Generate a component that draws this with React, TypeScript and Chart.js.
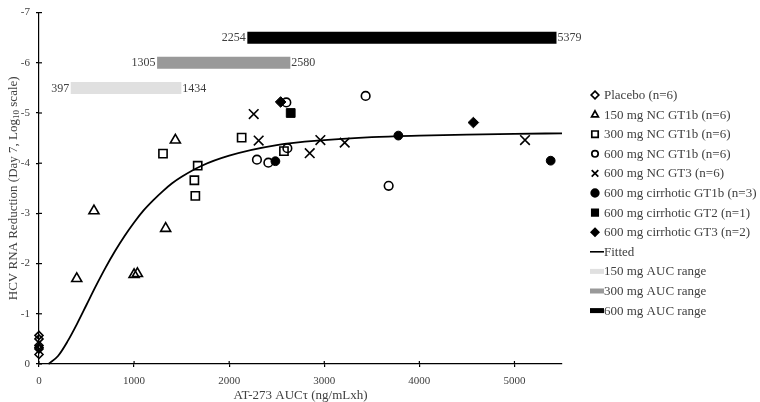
import React, { useEffect, useRef } from 'react';
import { Chart, registerables } from 'chart.js';

Chart.register(...registerables);

const FONT = '"Liberation Serif", "Times New Roman", serif';
const TEXT = '#404040';

// ---- Data ----
const placeboX = [0, 0, 0, 0, 0, 0];
const placeboY = [-0.57, -0.5, -0.37, -0.33, -0.3, -0.19];
const nc150X = [397, 578, 1000, 1035, 1332, 1434];
const nc150Y = [-1.7, -3.05, -1.78, -1.8, -2.7, -4.46];
const nc300X = [1304, 1634, 1644, 1669, 2131, 2576];
const nc300Y = [-4.19, -3.66, -3.35, -3.95, -4.51, -4.24];
const nc600Gt1bX = [2292, 2412, 2612, 2601, 3435, 3677];
const nc600Gt1bY = [-4.07, -4.01, -4.3, -5.21, -5.34, -3.55];
const nc600Gt3X = [2258, 2310, 2847, 2959, 3215, 5111];
const nc600Gt3Y = [-4.98, -4.45, -4.2, -4.46, -4.41, -4.46];
const cirGt1bX = [2486, 3779, 5381];
const cirGt1bY = [-4.04, -4.55, -4.05];
const cirGt2X = [2647];
const cirGt2Y = [-5.0];
const cirGt3X = [2541, 4568];
const cirGt3Y = [-5.22, -4.81];

const fittedX = [100, 200, 300, 400, 500, 600, 700, 800, 900, 1000, 1100, 1200, 1300, 1400, 1500, 1700, 2000, 2500, 3000, 3500, 4000, 4500, 5000, 5500];
const fittedY = [0, -0.16, -0.45, -0.8, -1.18, -1.56, -1.92, -2.25, -2.55, -2.82, -3.06, -3.26, -3.44, -3.6, -3.73, -3.94, -4.15, -4.36, -4.46, -4.52, -4.55, -4.57, -4.585, -4.595];

const auc150 = [397, 1434];
const auc300 = [1305, 2580];
const auc600 = [2254, 5379];
const aucLevels = [-5.5, -6.0, -6.5];
const aucColors = ['#e0e0e0', '#999999', '#000000'];

const xTicks = [0, 1000, 2000, 3000, 4000, 5000];

const legendLabels = [
  'Placebo (n=6)',
  '150 mg NC GT1b (n=6)',
  '300 mg NC GT1b (n=6)',
  '600 mg NC GT1b (n=6)',
  '600 mg NC GT3 (n=6)',
  '600 mg cirrhotic GT1b (n=3)',
  '600 mg cirrhotic GT2 (n=1)',
  '600 mg cirrhotic GT3 (n=2)',
  'Fitted',
  '150 mg AUC range',
  '300 mg AUC range',
  '600 mg AUC range',
];
const legendKinds = ['diamond', 'triangle', 'square', 'circle', 'cross', 'circleF', 'squareF', 'diamondF', 'line', 'bar0', 'bar1', 'bar2'];

function pts(xs: number[], ys: number[]) {
  return xs.map((x, i) => ({ x, y: ys[i] }));
}

function scatterDs(label: string, data: any[], style: string, radius: number, filled: boolean) {
  return {
    label,
    data,
    showLine: false,
    pointStyle: style,
    pointRadius: radius,
    pointHoverRadius: radius,
    pointBorderColor: '#000',
    pointBackgroundColor: filled ? '#000' : 'rgba(0,0,0,0)',
    pointBorderWidth: filled ? 1 : 1.6,
    clip: false as any,
  };
}

function drawMarker(ctx: CanvasRenderingContext2D, kind: string, x: number, y: number) {
  ctx.save();
  ctx.strokeStyle = '#000';
  ctx.fillStyle = '#000';
  ctx.lineWidth = 1.7;
  const filled = kind.endsWith('F');
  const k = filled ? kind.slice(0, -1) : kind;
  ctx.beginPath();
  if (k === 'diamond') {
    const r = 3.8;
    ctx.moveTo(x, y - r);
    ctx.lineTo(x + r, y);
    ctx.lineTo(x, y + r);
    ctx.lineTo(x - r, y);
    ctx.closePath();
  } else if (k === 'triangle') {
    const r = 3.8;
    ctx.moveTo(x, y - r);
    ctx.lineTo(x + r * 0.9, y + r * 0.6);
    ctx.lineTo(x - r * 0.9, y + r * 0.6);
    ctx.closePath();
  } else if (k === 'square') {
    const s = 3.2;
    ctx.rect(x - s, y - s, 2 * s, 2 * s);
  } else if (k === 'circle') {
    ctx.arc(x, y, filled ? 3.8 : 3.2, 0, Math.PI * 2);
  } else if (k === 'cross') {
    const s = 3.3;
    ctx.moveTo(x - s, y - s);
    ctx.lineTo(x + s, y + s);
    ctx.moveTo(x + s, y - s);
    ctx.lineTo(x - s, y + s);
  }
  if (filled) ctx.fill();
  ctx.stroke();
  ctx.restore();
}

const customPlugin = {
  id: 'custom',
  afterDraw(chart: any) {
    const ctx: CanvasRenderingContext2D = chart.ctx;
    const xs = chart.scales.x;
    const ys = chart.scales.y;
    const area = chart.chartArea;

    // inner tick marks (ticks cross the axis)
    ctx.save();
    ctx.strokeStyle = '#000';
    ctx.lineWidth = 1.2;
    xs.ticks.forEach((t: any) => {
      const px = xs.getPixelForValue(t.value);
      ctx.beginPath();
      ctx.moveTo(px, area.bottom);
      ctx.lineTo(px, area.bottom - 3);
      ctx.stroke();
    });
    ys.ticks.forEach((t: any) => {
      const py = ys.getPixelForValue(t.value);
      ctx.beginPath();
      ctx.moveTo(area.left, py);
      ctx.lineTo(area.left + 3, py);
      ctx.stroke();
    });
    ctx.restore();

    // AUC range labels
    ctx.save();
    ctx.font = `12px ${FONT}`;
    ctx.fillStyle = TEXT;
    ctx.textBaseline = 'middle';
    [auc150, auc300, auc600].forEach((r, i) => {
      const py = ys.getPixelForValue(aucLevels[i]);
      const x0 = xs.getPixelForValue(r[0]) - 6;
      const x1 = xs.getPixelForValue(r[1]) + 6;
      ctx.textAlign = 'right';
      ctx.fillText(String(r[0]), x0 - 1.5, py + 0.5);
      ctx.textAlign = 'left';
      ctx.fillText(String(r[1]), x1 + 1, py + 0.5);
    });
    ctx.restore();

    // axis titles
    ctx.save();
    ctx.fillStyle = TEXT;
    ctx.font = `13px ${FONT}`;
    ctx.textAlign = 'center';
    ctx.textBaseline = 'middle';
    ctx.fillText('AT-273 AUCτ (ng/mLxh)', (area.left + area.right) / 2, 395.5);
    ctx.restore();

    ctx.save();
    ctx.fillStyle = TEXT;
    ctx.translate(14, (area.top + area.bottom) / 2);
    ctx.rotate(-Math.PI / 2);
    ctx.textBaseline = 'middle';
    ctx.textAlign = 'left';
    const p1 = 'HCV RNA Reduction (Day 7, Log';
    const p2 = '10';
    const p3 = ' scale)';
    ctx.font = `13px ${FONT}`;
    const w1 = ctx.measureText(p1).width;
    const w3 = ctx.measureText(p3).width;
    ctx.font = `9px ${FONT}`;
    const w2 = ctx.measureText(p2).width;
    const start = -(w1 + w2 + w3) / 2;
    ctx.font = `13px ${FONT}`;
    ctx.fillText(p1, start, 0);
    ctx.font = `9px ${FONT}`;
    ctx.fillText(p2, start + w1, 3);
    ctx.font = `13px ${FONT}`;
    ctx.fillText(p3, start + w1 + w2, 0);
    ctx.restore();

    // legend
    ctx.save();
    const mx = area.right + 33;
    const tx = area.right + 42;
    legendLabels.forEach((lab, i) => {
      const y = 95 + i * 19.6;
      const kind = legendKinds[i];
      if (kind === 'line') {
        ctx.strokeStyle = '#000';
        ctx.lineWidth = 1.6;
        ctx.beginPath();
        ctx.moveTo(area.right + 28, y);
        ctx.lineTo(tx, y);
        ctx.stroke();
      } else if (kind.startsWith('bar')) {
        const idx = Number(kind.slice(3));
        ctx.strokeStyle = aucColors[idx];
        ctx.lineWidth = 5;
        ctx.beginPath();
        ctx.moveTo(area.right + 28, y);
        ctx.lineTo(tx, y);
        ctx.stroke();
      } else {
        drawMarker(ctx, kind, mx, y);
      }
      ctx.fillStyle = TEXT;
      ctx.font = `13px ${FONT}`;
      ctx.textAlign = 'left';
      ctx.textBaseline = 'middle';
      ctx.fillText(lab, tx, y + 0.5);
    });
    ctx.restore();
  },
};

export default function App() {
  const ref = useRef<HTMLCanvasElement>(null);
  useEffect(() => {
    if (!ref.current) return;
    const barDs = [auc150, auc300, auc600].map((r, i) => ({
      label: ['150 mg AUC range', '300 mg AUC range', '600 mg AUC range'][i],
      data: r.map((x) => ({ x, y: aucLevels[i] })),
      showLine: true,
      borderColor: aucColors[i],
      borderWidth: 12,
      borderCapStyle: 'square' as const,
      pointRadius: 0,
      pointHoverRadius: 0,
      clip: false as any,
    }));
    const chart = new Chart(ref.current, {
      type: 'scatter',
      data: {
        datasets: [
          scatterDs('Placebo (n=6)', pts(placeboX, placeboY), 'rectRot', 4, false),
          scatterDs('150 mg NC GT1b (n=6)', pts(nc150X, nc150Y), 'triangle', 5.8, false),
          scatterDs('300 mg NC GT1b (n=6)', pts(nc300X, nc300Y), 'rect', 5.8, false),
          scatterDs('600 mg NC GT1b (n=6)', pts(nc600Gt1bX, nc600Gt1bY), 'circle', 4.3, false),
          scatterDs('600 mg NC GT3 (n=6)', pts(nc600Gt3X, nc600Gt3Y), 'crossRot', 6.8, false),
          scatterDs('600 mg cirrhotic GT1b (n=3)', pts(cirGt1bX, cirGt1bY), 'circle', 4.4, true),
          scatterDs('600 mg cirrhotic GT2 (n=1)', pts(cirGt2X, cirGt2Y), 'rect', 6.2, true),
          scatterDs('600 mg cirrhotic GT3 (n=2)', pts(cirGt3X, cirGt3Y), 'rectRot', 5.3, true),
          {
            label: 'Fitted',
            data: pts(fittedX, fittedY),
            showLine: true,
            borderColor: '#000',
            borderWidth: 1.8,
            pointRadius: 0,
            pointHoverRadius: 0,
            cubicInterpolationMode: 'monotone' as const,
            clip: false as any,
          },
          ...barDs,
        ] as any,
      },
      options: {
        animation: false,
        responsive: true,
        maintainAspectRatio: false,
        events: [],
        layout: { padding: { left: 0, right: 198, top: 4.7, bottom: 0 } },
        plugins: {
          legend: { display: false },
          tooltip: { enabled: false },
          title: { display: false },
        },
        scales: {
          x: {
            type: 'linear',
            min: 0,
            max: 5500,
            afterBuildTicks: (s: any) => {
              s.ticks = xTicks.map((v) => ({ value: v }));
            },
            afterFit: (s: any) => {
              s.height = 38;
            },
            ticks: {
              color: TEXT,
              font: { family: FONT, size: 11 },
              padding: 8,
              maxRotation: 0,
              autoSkip: false,
              callback: (v: any) => String(v),
            },
            grid: {
              display: true,
              drawOnChartArea: false,
              drawTicks: true,
              tickLength: 3,
              color: '#000',
              lineWidth: 1.2,
            },
            border: { display: true, color: '#000', width: 1.2 },
          },
          y: {
            type: 'linear',
            min: -7,
            max: 0,
            reverse: true,
            afterFit: (s: any) => {
              s.width = 39;
            },
            ticks: {
              stepSize: 1,
              color: TEXT,
              font: { family: FONT, size: 11 },
              padding: 6,
              callback: (v: any) => String(v),
            },
            grid: {
              display: true,
              drawOnChartArea: false,
              drawTicks: true,
              tickLength: 3,
              color: '#000',
              lineWidth: 1.2,
            },
            border: { display: true, color: '#000', width: 1.2 },
          },
        },
      } as any,
      plugins: [customPlugin],
    });
    return () => chart.destroy();
  }, []);
  return (
    <div style={{ position: 'fixed', left: 0, top: 0, width: 760, height: 402 }}>
      <canvas ref={ref} />
    </div>
  );
}
